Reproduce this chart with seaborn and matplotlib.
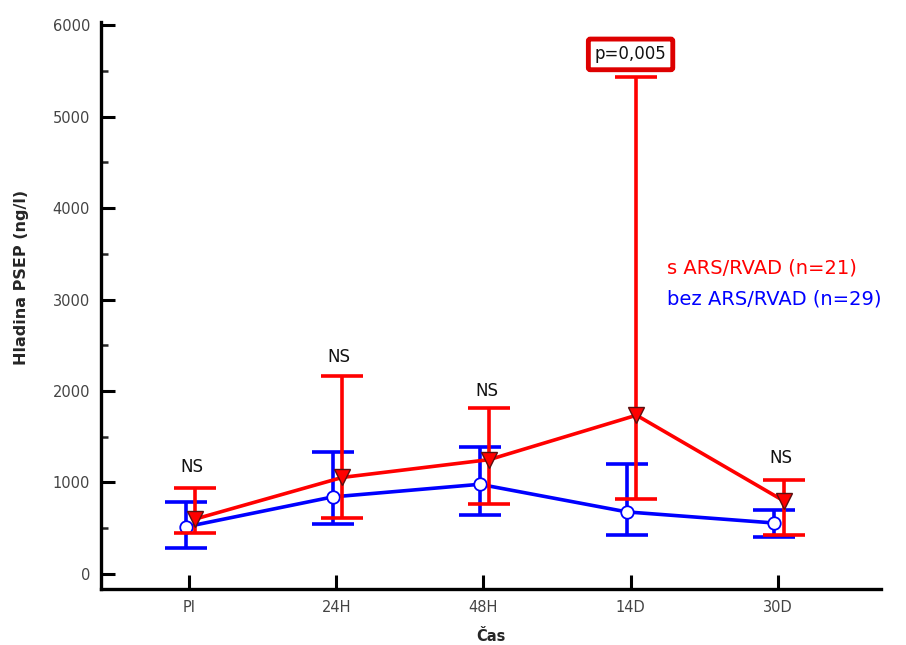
import matplotlib
matplotlib.use("Agg")
import matplotlib.pyplot as plt
import seaborn as sns
import numpy as np
import pandas as pd
from matplotlib.ticker import MultipleLocator

categories = ["PI", "24H", "48H", "14D", "30D"]
red_mean = [600, 1055, 1250, 1735, 800]
red_low = [448, 612, 760, 820, 426]
red_high = [940, 2165, 1810, 5430, 1027]
blue_mean = [514, 842, 980, 678, 557]
blue_low = [284, 546, 645, 426, 404]
blue_high = [787, 1330, 1388, 1202, 700]
ns_labels = ["NS", "NS", "NS", "", "NS"]
ns_y = [1170, 2370, 2000, 0, 1270]
red_label = "s ARS/RVAD (n=21)"
blue_label = "bez ARS/RVAD (n=29)"
p_text = "p=0,005"

sns.set_style("white")
plt.rcParams['font.family'] = ['DejaVu Sans']

fig = plt.figure(figsize=(9.06, 6.45), dpi=100)
ax = fig.add_axes([0.1115, 0.0868, 0.8605, 0.8792])

idx = np.arange(len(categories))
off_b, off_r = -0.025, 0.04
RED = "#ff0000"
BLUE = "#0000ff"

df_b = pd.DataFrame({"x": idx + off_b, "y": blue_mean})
df_r = pd.DataFrame({"x": idx + off_r, "y": red_mean})

bm = np.array(blue_mean); rm = np.array(red_mean)
ax.errorbar(idx + off_b, bm, yerr=[bm - np.array(blue_low), np.array(blue_high) - bm],
            fmt="none", ecolor=BLUE, elinewidth=2.6, capsize=15, capthick=2.6, zorder=2)
sns.lineplot(data=df_b, x="x", y="y", ax=ax, color=BLUE, linewidth=2.6,
             marker="o", markersize=9, markerfacecolor="white",
             markeredgecolor=BLUE, markeredgewidth=1.3, zorder=3)
ax.errorbar(idx + off_r, rm, yerr=[rm - np.array(red_low), np.array(red_high) - rm],
            fmt="none", ecolor=RED, elinewidth=2.6, capsize=15, capthick=2.6, zorder=4)
sns.lineplot(data=df_r, x="x", y="y", ax=ax, color=RED, linewidth=2.6,
             marker="v", markersize=11, markerfacecolor=RED,
             markeredgecolor="#5a1010", markeredgewidth=1.0, zorder=5)

for i, (t, yy) in enumerate(zip(ns_labels, ns_y)):
    if t:
        ax.text(i + 0.02, yy, t, ha="center", va="center", fontsize=12, color="#111111")

ax.text(3.0, 5680, p_text, ha="center", va="center", fontsize=12, color="#111111",
        bbox=dict(boxstyle="round,pad=0.38,rounding_size=0.12", facecolor="white",
                  edgecolor="#dd0000", linewidth=3.5))

ax.text(3.25, 3350, red_label, ha="left", va="center", fontsize=14, color=RED)
ax.text(3.25, 3010, blue_label, ha="left", va="center", fontsize=14, color=BLUE)

ax.set_xlim(-0.6, 4.70)
ax.set_ylim(-165, 6035)
ax.set_xticks(idx)
ax.set_xticklabels(categories)
ax.yaxis.set_major_locator(MultipleLocator(1000))
ax.yaxis.set_minor_locator(MultipleLocator(500))

for s in ["top", "right"]:
    ax.spines[s].set_visible(False)
for s in ["left", "bottom"]:
    ax.spines[s].set_linewidth(2.4)
    ax.spines[s].set_color("black")

ax.tick_params(axis="both", which="major", direction="in", length=10, width=2.2,
               colors="black", labelcolor="#444444", labelsize=10.5, pad=8,
               left=True, bottom=True)
ax.tick_params(axis="y", which="minor", direction="in", length=5, width=1.8, left=True)

ax.set_xlabel("Čas", fontsize=10.5, fontweight="bold", labelpad=10)
ax.set_ylabel("Hladina PSEP (ng/l)", fontsize=11.5, fontweight="bold")
ax.yaxis.set_label_coords(-0.093, 0.55)

fig.savefig("out.png", dpi=100)
